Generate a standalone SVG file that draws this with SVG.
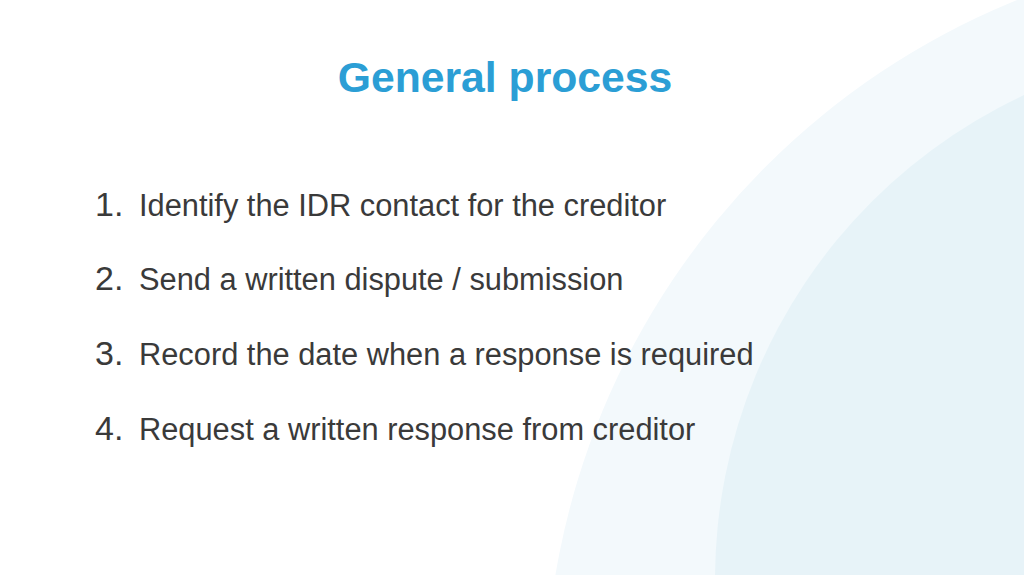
<svg xmlns="http://www.w3.org/2000/svg" width="1024" height="575" viewBox="0 0 1024 575">
<style>
.n{font-family:"Liberation Sans",Arial,sans-serif;font-size:34px;fill:#3a3a3a}
.t{font-family:"Liberation Sans",Arial,sans-serif;font-size:30.8px;fill:#3a3a3a}
</style>
<rect width="1024" height="575" fill="#ffffff"/>
<circle cx="1300" cy="700" r="755" fill="#f3f9fc"/>
<circle cx="1250" cy="580" r="535" fill="#e7f3f8"/>
<text x="505" y="92" text-anchor="middle" font-family="Liberation Sans,Arial,sans-serif" font-size="42.7" font-weight="bold" fill="#2b9ed5">General process</text>
<g id="item1"><text x="95" y="216" class="n">1.</text><text x="139" y="216" class="t">Identify the IDR contact for the creditor</text></g>
<g id="item2"><text x="95" y="290" class="n">2.</text><text x="139" y="290" class="t">Send a written dispute / submission</text></g>
<g id="item3"><text x="95" y="365" class="n">3.</text><text x="139" y="365" class="t">Record the date when a response is required</text></g>
<g id="item4"><text x="95" y="440" class="n">4.</text><text x="139" y="440" class="t">Request a written response from creditor</text></g>
</svg>
